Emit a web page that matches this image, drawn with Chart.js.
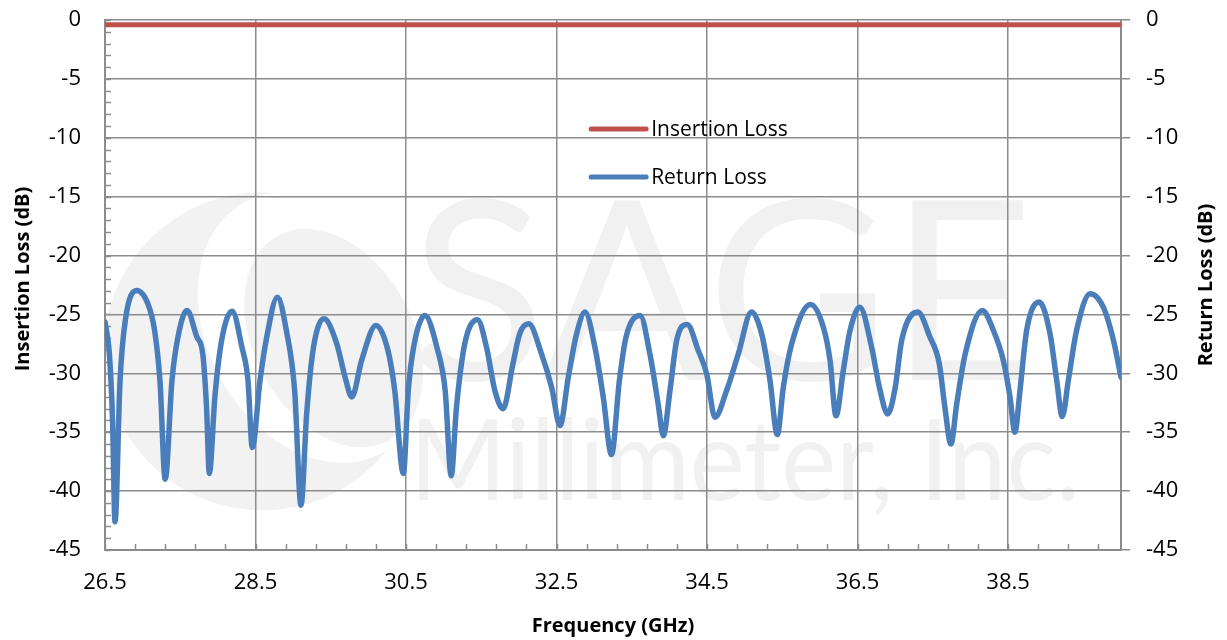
<!DOCTYPE html>
<html>
<head>
<meta charset="utf-8">
<script src="https://cdn.jsdelivr.net/npm/chart.js@4/dist/chart.umd.min.js"></script>
<style>
  html, body { margin: 0; padding: 0; background: #ffffff; }
  #wrap { width: 1227px; height: 640px; position: relative; }
</style>
</head>
<body>
<div id="wrap"><canvas id="c" width="1227" height="640"></canvas></div>
<script>
// ---- Data ----
const rlFreq = [26.50, 26.56, 26.60, 26.633, 26.70, 26.77, 26.92, 27.07, 27.16, 27.23, 27.30, 27.39, 27.47, 27.59, 27.72, 27.80, 27.85, 27.886, 27.96, 28.05, 28.19, 28.32, 28.40, 28.457, 28.56, 28.65, 28.79, 28.91, 29.02, 29.104, 29.18, 29.27, 29.41, 29.58, 29.69, 29.78, 29.91, 30.10, 30.26, 30.35, 30.464, 30.53, 30.60, 30.752, 30.91, 31.02, 31.10, 31.17, 31.28, 31.45, 31.57, 31.68, 31.79, 31.92, 32.01, 32.13, 32.30, 32.435, 32.546, 32.656, 32.767, 32.878, 33.01, 33.12, 33.23, 33.335, 33.424, 33.61, 33.74, 33.85, 33.918, 34.007, 34.096, 34.237, 34.383, 34.495, 34.605, 34.76, 34.915, 35.09, 35.225, 35.336, 35.433, 35.513, 35.624, 35.875, 36.045, 36.134, 36.213, 36.31, 36.40, 36.53, 36.687, 36.79, 36.90, 37.00, 37.086, 37.30, 37.46, 37.586, 37.66, 37.74, 37.817, 37.93, 38.157, 38.305, 38.436, 38.525, 38.59, 38.658, 38.746, 38.914, 39.057, 39.146, 39.22, 39.30, 39.41, 39.59, 39.765, 39.90, 40.00];
const returnLoss = [-25.65, -28.5, -34.0, -42.6, -30.6, -25.5, -22.96, -24.1, -26.4, -30.6, -39.0, -30.6, -26.9, -24.66, -26.9, -28.4, -33.0, -38.5, -32.0, -27.2, -24.72, -27.8, -30.6, -36.3, -30.6, -26.9, -23.53, -26.36, -31.46, -41.2, -33.4, -27.8, -25.37, -27.5, -30.33, -32.0, -28.9, -25.94, -28.06, -31.46, -38.5, -31.46, -27.8, -25.09, -27.8, -31.46, -38.7, -32.9, -27.5, -25.45, -27.8, -31.46, -33.0, -29.2, -26.64, -25.8, -28.35, -31.2, -34.44, -30.33, -26.64, -24.8, -27.8, -32.0, -36.9, -30.6, -26.9, -25.09, -28.35, -32.6, -35.29, -31.46, -27.2, -25.85, -28.06, -30.04, -33.73, -31.46, -28.35, -24.8, -26.64, -30.6, -35.2, -31.2, -27.5, -24.15, -26.08, -28.9, -33.6, -29.76, -26.36, -24.38, -27.8, -31.2, -33.45, -31.2, -27.2, -24.8, -26.9, -29.2, -32.9, -36.0, -32.6, -28.35, -24.66, -26.36, -28.9, -32.0, -35.0, -31.46, -26.36, -23.95, -26.64, -30.6, -33.67, -30.6, -26.36, -23.24, -24.38, -27.2, -30.33];
const ilFreq = [26.5, 40.0];
const insertionLoss = [-0.4, -0.4];
const xTickValues = [26.5, 28.5, 30.5, 32.5, 34.5, 36.5, 38.5];
const yTickValues = [0, -5, -10, -15, -20, -25, -30, -35, -40, -45];
const seriesNames = ['Insertion Loss', 'Return Loss'];
const axisTitles = { x: 'Frequency (GHz)', yLeft: 'Insertion Loss (dB)', yRight: 'Return Loss (dB)' };
const watermark = ['SAGE', 'Millimeter, Inc.'];

// ---- Styling ----
const RED = '#C0504D';
const BLUE = '#4A7EBB';
const GRID = '#8C8C8C';
const FONT = '"Open Sans", Lato, "Liberation Sans", sans-serif';

const ilData = ilFreq.map((f, i) => ({ x: f, y: insertionLoss[i] }));
const rlData = rlFreq.map((f, i) => ({ x: f, y: returnLoss[i] }));

const watermarkPlugin = {
  id: 'watermark',
  beforeDraw(chart) {
    const { ctx, chartArea: a } = chart;
    ctx.save();
    ctx.beginPath();
    ctx.rect(a.left, a.top, a.right - a.left, a.bottom - a.top);
    ctx.clip();
    const wx = a.left, W = a.right - a.left, H = a.bottom - a.top;
    // round logo
    ctx.fillStyle = '#f2f2f2';
    ctx.beginPath();
    ctx.arc(wx + W * 0.155, a.top + H * 0.625, H * 0.30, 0, Math.PI * 2);
    ctx.fill();
    ctx.fillStyle = '#ffffff';
    ctx.beginPath();
    ctx.ellipse(wx + W * 0.205, a.top + H * 0.58, H * 0.20, H * 0.27, -0.5, 0, Math.PI * 2);
    ctx.fill();
    ctx.fillStyle = '#f2f2f2';
    ctx.beginPath();
    ctx.ellipse(wx + W * 0.225, a.top + H * 0.60, H * 0.15, H * 0.22, -0.5, 0, Math.PI * 2);
    ctx.fill();
    // text
    ctx.fillStyle = '#f1f1f1';
    ctx.textBaseline = 'alphabetic';
    ctx.textAlign = 'left';
    ctx.font = '250px Lato, "Open Sans", sans-serif';
    ctx.fillText(watermark[0], wx + W * 0.30, a.top + H * 0.68, W * 0.63);
    ctx.font = '112px Lato, "Open Sans", sans-serif';
    ctx.fillText(watermark[1], wx + W * 0.30, a.top + H * 0.905, W * 0.66);
    ctx.restore();
  }
};

const decorPlugin = {
  id: 'decor',
  beforeDatasetsDraw(chart) {
    const { ctx, chartArea: a, scales } = chart;
    ctx.save();
    ctx.strokeStyle = GRID;
    ctx.lineWidth = 1.5;
    // minor ticks on x axis (inside, every 0.4 GHz)
    const xs = scales.x;
    for (let k = 0; k <= 40; k++) {
      const v = xs.min + k * 0.4;
      if (v > xs.max + 1e-9) break;
      const px = Math.round(xs.getPixelForValue(v)) + 0.5;
      ctx.beginPath();
      ctx.moveTo(px, a.bottom);
      ctx.lineTo(px, a.bottom - 6);
      ctx.stroke();
    }
    // minor ticks on left y axis (inside, every 1 dB)
    const ys = scales.y;
    for (let v = ys.min; v <= ys.max + 1e-9; v += 1) {
      const py = Math.round(ys.getPixelForValue(v)) + 0.5;
      ctx.beginPath();
      ctx.moveTo(a.left, py);
      ctx.lineTo(a.left + 6, py);
      ctx.stroke();
    }
    ctx.restore();
  },
  afterDraw(chart) {
    const { ctx, chartArea: a } = chart;
    ctx.save();
    // legend
    const colors = [RED, BLUE];
    const lx0 = a.left + (a.right - a.left) * 0.4785;
    const lx1 = lx0 + 55;
    const rows = [a.top + 109, a.top + 157];
    ctx.font = '21px ' + FONT;
    ctx.textBaseline = 'middle';
    ctx.textAlign = 'left';
    ctx.lineCap = 'round';
    for (let i = 0; i < 2; i++) {
      ctx.strokeStyle = colors[i];
      ctx.lineWidth = 5;
      ctx.beginPath();
      ctx.moveTo(lx0, rows[i]);
      ctx.lineTo(lx1, rows[i]);
      ctx.stroke();
      ctx.fillStyle = '#000';
      ctx.fillText(seriesNames[i], lx1 + 5, rows[i] + 1);
    }
    // axis titles
    ctx.font = 'bold 20px ' + FONT;
    ctx.textAlign = 'center';
    ctx.textBaseline = 'middle';
    ctx.fillText(axisTitles.x, (a.left + a.right) / 2, 626);
    const midY = (a.top + a.bottom) / 2;
    ctx.save();
    ctx.translate(23, midY - 6);
    ctx.rotate(-Math.PI / 2);
    ctx.fillText(axisTitles.yLeft, 0, 0);
    ctx.restore();
    ctx.save();
    ctx.translate(1206, midY);
    ctx.rotate(-Math.PI / 2);
    ctx.fillText(axisTitles.yRight, 0, 0);
    ctx.restore();
    ctx.restore();
  }
};

function fitY(width) {
  return (s) => { s.width = width; s.paddingTop = 0; s.paddingBottom = 0; };
}

new Chart(document.getElementById('c'), {
  type: 'line',
  data: {
    datasets: [
      { label: seriesNames[0], data: ilData, borderColor: RED, backgroundColor: RED,
        borderWidth: 5, pointRadius: 0, tension: 0, yAxisID: 'y' },
      { label: seriesNames[1], data: rlData, borderColor: BLUE, backgroundColor: BLUE,
        borderWidth: 5.5, pointRadius: 0, cubicInterpolationMode: 'monotone', yAxisID: 'y2',
        borderJoinStyle: 'round', borderCapStyle: 'round' }
    ]
  },
  options: {
    responsive: false,
    animation: false,
    devicePixelRatio: 1,
    layout: { padding: { top: 20, left: 0, right: 0, bottom: 0 } },
    plugins: { legend: { display: false }, tooltip: { enabled: false } },
    scales: {
      x: {
        type: 'linear', position: 'bottom', min: 26.5, max: 40,
        afterBuildTicks: (s) => { s.ticks = xTickValues.map(v => ({ value: v })); },
        afterFit: (s) => { s.height = 90; s.paddingLeft = 0; s.paddingRight = 0; },
        grid: { color: GRID, lineWidth: 1.5, drawTicks: false },
        border: { display: true, color: GRID, width: 2 },
        ticks: { color: '#000', font: { family: FONT, size: 22 }, padding: 20,
                 maxRotation: 0, autoSkip: false, callback: (v) => v.toFixed(1) }
      },
      y: {
        type: 'linear', position: 'left', min: -45, max: 0,
        afterBuildTicks: (s) => { s.ticks = yTickValues.map(v => ({ value: v })); },
        afterFit: fitY(105),
        grid: { color: GRID, lineWidth: 1.5, drawTicks: false },
        border: { display: true, color: GRID, width: 2 },
        ticks: { color: '#000', font: { family: FONT, size: 22 }, padding: 24 }
      },
      y2: {
        type: 'linear', position: 'right', min: -45, max: 0,
        afterBuildTicks: (s) => { s.ticks = yTickValues.map(v => ({ value: v })); },
        afterFit: fitY(106),
        grid: { color: GRID, lineWidth: 1.5, drawOnChartArea: false, drawTicks: true, tickLength: 9 },
        border: { display: true, color: GRID, width: 2 },
        ticks: { color: '#000', font: { family: FONT, size: 22 }, padding: 16 }
      }
    }
  },
  plugins: [watermarkPlugin, decorPlugin]
});
</script>
</body>
</html>
